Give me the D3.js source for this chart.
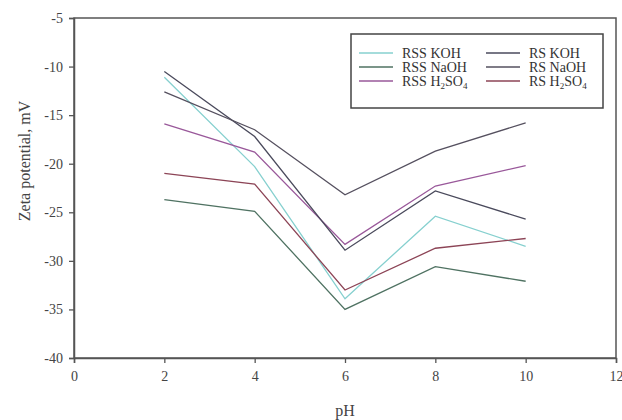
<!DOCTYPE html>
<html>
<head>
<meta charset="utf-8">
<script src="https://cdn.jsdelivr.net/npm/d3@7"></script>
<style>
  body { margin: 0; background: #fff; }
  svg { font-family: "Liberation Serif", "DejaVu Serif", serif; }
</style>
</head>
<body>
<div id="chart"></div>
<script>
const width = 622;
const height = 420;

// data
const phValues = [2, 4, 6, 8, 10];
const rssKOH = [-11.1, -20.3, -33.9, -25.4, -28.5];
const rssNaOH = [-23.7, -24.9, -35.0, -30.6, -32.1];
const rssH2SO4 = [-15.9, -18.8, -28.3, -22.3, -20.2];
const rsKOH = [-10.5, -17.2, -28.9, -22.8, -25.7];
const rsNaOH = [-12.6, -16.5, -23.2, -18.7, -15.8];
const rsH2SO4 = [-21.0, -22.1, -33.0, -28.7, -27.7];

const xTicks = [0, 2, 4, 6, 8, 10, 12];
const yTicks = [-40, -35, -30, -25, -20, -15, -10, -5];

const series = [
    { name: "RSS KOH", values: rssKOH, color: "#86d0cf" },
    { name: "RSS NaOH", values: rssNaOH, color: "#4f7262" },
    { name: "RSS H2SO4", values: rssH2SO4, color: "#99589a" },
    { name: "RS KOH", values: rsKOH, color: "#4a4a5c" },
    { name: "RS NaOH", values: rsNaOH, color: "#55505f" },
    { name: "RS H2SO4", values: rsH2SO4, color: "#8c4456" }
];

const margin = { top: 18, right: 6, bottom: 62, left: 74 };

const svg = d3.select("#chart")
    .append("svg")
    .attr("width", width)
    .attr("height", height);

const x = d3.scaleLinear()
    .domain([0, 12])
    .range([margin.left, width - margin.right]);

const y = d3.scaleLinear()
    .domain([-40, -5])
    .range([height - margin.bottom, margin.top]);

// plot frame
svg.append("rect")
    .attr("x", x(0))
    .attr("y", y(-5))
    .attr("width", x(12) - x(0))
    .attr("height", y(-40) - y(-5))
    .attr("fill", "none")
    .attr("stroke", "#555")
    .attr("stroke-width", 1.5);

const xAxis = svg.append("g")
    .attr("transform", `translate(0,${y(-40)})`)
    .call(d3.axisBottom(x).tickValues(xTicks).tickFormat(d => String(d)).tickSize(5).tickPadding(8));

const yAxis = svg.append("g")
    .attr("transform", `translate(${x(0)},0)`)
    .call(d3.axisLeft(y).tickValues(yTicks).tickFormat(d => String(d)).tickSize(5).tickPadding(6));

[xAxis, yAxis].forEach(g => {
    g.attr("font-family", null);
    g.select(".domain").attr("stroke", "#555").attr("stroke-width", 1.5);
    g.selectAll(".tick line").attr("stroke", "#555").attr("stroke-width", 1.3);
    g.selectAll(".tick text")
        .attr("fill", "#444")
        .style("font-size", "14px");
});

svg.append("text")
    .attr("x", x(6))
    .attr("y", 416)
    .attr("text-anchor", "middle")
    .attr("fill", "#444")
    .style("font-size", "16px")
    .text("pH");

svg.append("text")
    .attr("transform", "translate(30,161) rotate(-90)")
    .attr("text-anchor", "middle")
    .attr("fill", "#444")
    .style("font-size", "16px")
    .text("Zeta potential, mV");

const line = d3.line()
    .x((d, i) => x(phValues[i]))
    .y(d => y(d));

svg.selectAll(".series")
    .data(series)
    .enter().append("path")
    .attr("class", "series")
    .attr("d", d => line(d.values))
    .attr("fill", "none")
    .attr("stroke", d => d.color)
    .attr("stroke-width", 1.3);

// legend
const legend = svg.append("g");
legend.append("rect")
    .attr("x", 351)
    .attr("y", 34)
    .attr("width", 252)
    .attr("height", 74)
    .attr("fill", "#fff")
    .attr("stroke", "#444")
    .attr("stroke-width", 1.5);

function addLabel(g, label) {
    const t = g.append("text")
        .attr("dy", "0.33em")
        .attr("fill", "#333")
        .style("font-size", "14px");
    if (label.endsWith("H2SO4")) {
        t.append("tspan").text(label.replace("H2SO4", "H"));
        t.append("tspan").attr("dy", 3).style("font-size", "9px").text("2");
        t.append("tspan").attr("dy", -3).text("SO");
        t.append("tspan").attr("dy", 3).style("font-size", "9px").text("4");
    } else {
        t.text(label);
    }
}

series.forEach((s, i) => {
    const col = Math.floor(i / 3);
    const row = i % 3;
    const g = legend.append("g")
        .attr("transform", `translate(${359 + col * 127},${53 + row * 14})`);
    g.append("line")
        .attr("x1", 0).attr("x2", 34)
        .attr("y1", 0).attr("y2", 0)
        .attr("stroke", s.color)
        .attr("stroke-width", 1.3);
    const tg = g.append("g").attr("transform", "translate(43,0)");
    addLabel(tg, s.name);
});
</script>
</body>
</html>
